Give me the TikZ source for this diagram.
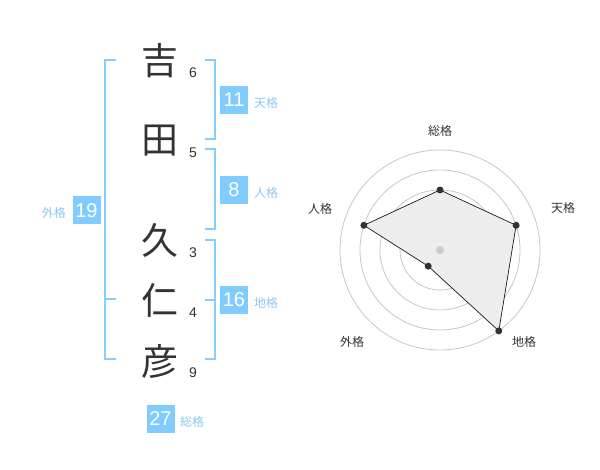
\documentclass[tikz,border=0pt]{standalone}
\usepackage{fontspec}
\setmainfont{Liberation Sans}
\newfontfamily\jp{Noto Sans CJK JP}
\definecolor{boxblue}{RGB}{128,204,255}
\definecolor{brblue}{RGB}{135,206,250}
\definecolor{lblblue}{RGB}{140,200,240}
\definecolor{ink}{RGB}{51,51,51}
\begin{document}
\begin{tikzpicture}[x=1pt,y=-1pt,
  kanji/.style={font=\jp\fontsize{37}{37}\selectfont, text=ink, inner sep=0},
  strk/.style={font=\fontsize{14}{14}\selectfont, text=ink, inner sep=0},
  numbox/.style={fill=boxblue, text=white, minimum width=28, minimum height=28, inner sep=0, font=\fontsize{20}{20}\selectfont},
  lbl/.style={text=lblblue, font=\jp\fontsize{12}{12}\selectfont, inner sep=0},
  bracket/.style={draw=brblue, line width=2},
  ring/.style={draw=black!22, line width=0.8},
  axlbl/.style={text=ink, font=\jp\fontsize{12}{12}\selectfont, inner sep=0},
  dot/.style={circle, fill=ink, inner sep=0, minimum size=7}
]
\useasboundingbox (0,0) rectangle (600,470);
% characters
\node[kanji] (k1) at (160,61) {吉};
\node[kanji] (k2) at (160,141) {田};
\node[kanji] (k3) at (160,240) {久};
\node[kanji] (k4) at (160,300) {仁};
\node[kanji] (k5) at (160,361) {彦};
\node[strk] (s1) at (193,73) {6};
\node[strk] (s2) at (193,153) {5};
\node[strk] (s3) at (193,253) {3};
\node[strk] (s4) at (193,313) {4};
\node[strk] (s5) at (193,373) {9};
% brackets
\draw[bracket] (116,60) -- (105,60) -- (105,359) -- (116,359);
\draw[bracket] (105,299) -- (116,299);
\draw[bracket] (205,60) -- (215,60) -- (215,139) -- (205,139);
\draw[bracket] (205,149) -- (215,149) -- (215,229) -- (205,229);
\draw[bracket] (205,240) -- (215,240) -- (215,359) -- (205,359);
\draw[bracket] (205,300) -- (215,300);
% boxes
\node[numbox] (b11) at (234,100) {11};
\node[lbl, anchor=west] (l11) at (254,103) {天格};
\node[numbox] (b8) at (234,190) {8};
\node[lbl, anchor=west] (l8) at (254,193) {人格};
\node[numbox] (b19) at (86.5,210.5) {19};
\node[lbl, anchor=east] (l19) at (66,213) {外格};
\node[numbox] (b16) at (234,300) {16};
\node[lbl, anchor=west] (l16) at (254,303) {地格};
\node[numbox] (b27) at (160.5,419) {27};
\node[lbl, anchor=west] (l27) at (180,422) {総格};
% radar
\coordinate (c) at (440,250);
\foreach \r in {20,40,60,80,100} \draw[ring] (c) circle[radius=\r];
\coordinate (p1) at (440,190);
\coordinate (p2) at (516.1,225.3);
\coordinate (p3) at (498.8,330.9);
\coordinate (p4) at (428.2,266.2);
\coordinate (p5) at (363.9,225.3);
\path[fill=black!7] (p1) -- (p2) -- (p3) -- (p4) -- (p5) -- cycle;
\draw[black!90, line width=0.7] (p1) -- (p2) -- (p3) -- (p4) -- (p5) -- cycle;
\foreach \q in {p1,p2,p3,p4,p5} \node[dot] at (\q) {};
\node[circle, fill=black!20, inner sep=0, minimum size=8] (cd) at (c) {};
\node[axlbl] (a1) at (440,131) {総格};
\node[axlbl] (a2) at (563,208) {天格};
\node[axlbl] (a3) at (524,342) {地格};
\node[axlbl] (a4) at (352,342) {外格};
\node[axlbl] (a5) at (320,209) {人格};
\end{tikzpicture}
\end{document}
